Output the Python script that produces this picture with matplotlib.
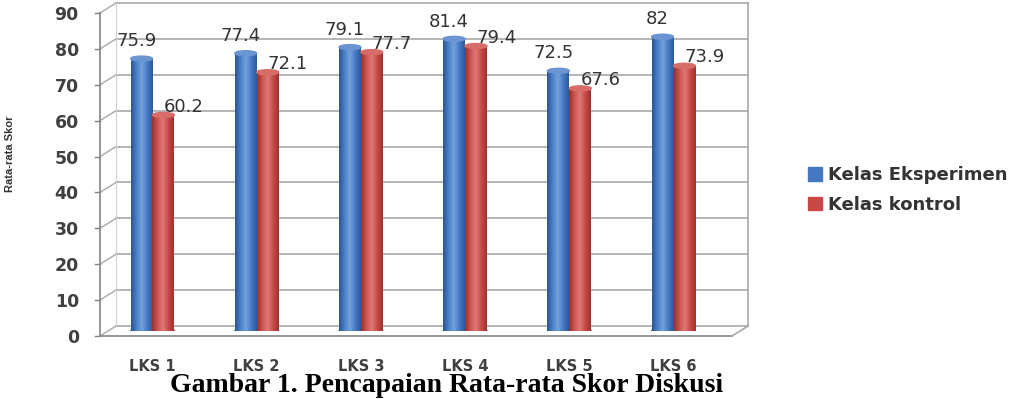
import matplotlib
matplotlib.use("Agg")
import matplotlib.pyplot as plt
import matplotlib.transforms as mtransforms
from matplotlib.colors import LinearSegmentedColormap
from matplotlib.patches import Ellipse, Patch
import numpy as np

# Data
kategori = ["LKS 1", "LKS 2", "LKS 3", "LKS 4", "LKS 5", "LKS 6"]
eksperimen = [75.9, 77.4, 79.1, 81.4, 72.5, 82]
kontrol = [60.2, 72.1, 77.7, 79.4, 67.6, 73.9]
label_eksperimen = ["75.9", "77.4", "79.1", "81.4", "72.5", "82"]
label_kontrol = ["60.2", "72.1", "77.7", "79.4", "67.6", "73.9"]
yticks = list(range(0, 91, 10))

biru = "#4479c2"
merah = "#c94846"
grid_col = "#a8a8a8"

cmap_biru = LinearSegmentedColormap.from_list(
    "b", ["#2a5596", "#4a80c9", "#76a2dc", "#4479c2", "#2c5a9c"])
cmap_merah = LinearSegmentedColormap.from_list(
    "r", ["#98302e", "#cf5451", "#de7a77", "#c94846", "#9e3331"])

fig = plt.figure(figsize=(10.32, 3.99), dpi=100)
W, H = 1032, 399
# sumbu utama = kedalaman tengah kotak 3D
ax = fig.add_axes([108 / W, (H - 331) / H, (740 - 108) / W, (331 - 8) / H])
ax.set_facecolor("none")

x = np.arange(len(kategori))
bw = 0.21
xlim = (-0.427, 5.638)
ylim = (0, 90)
dx, dy = 0.077, 1.39  # setengah kedalaman (satuan data)

# kotak 3D: dinding belakang, dinding samping, lantai
x0, x1 = xlim
for v in yticks:
    ax.plot([x0 + dx, x1 + dx], [v + dy, v + dy], color=grid_col, lw=1.2,
            clip_on=False, zorder=0)
    ax.plot([x0 - dx, x0 + dx], [v - dy, v + dy], color=grid_col, lw=1.0,
            clip_on=False, zorder=0)
    ax.plot([x0 - dx - 0.05, x0 - dx], [v - dy, v - dy], color="#808080", lw=1.0,
            clip_on=False, zorder=0)
ax.plot([x0 - dx, x0 - dx], [-dy, 90 - dy], color="#8c8c8c", lw=1.3, clip_on=False, zorder=0)
ax.plot([x0 + dx, x0 + dx], [dy, 90 + dy], color="#d0d0d0", lw=0.8, clip_on=False, zorder=0)
ax.plot([x1 + dx, x1 + dx], [dy, 90 + dy], color=grid_col, lw=1.2, clip_on=False, zorder=0)
ax.plot([x0 - dx, x1 - dx], [-dy, -dy], color="#8c8c8c", lw=1.3, clip_on=False, zorder=0)
ax.plot([x1 - dx, x1 + dx], [-dy, dy], color=grid_col, lw=1.2, clip_on=False, zorder=0)

# batang
bars_e = ax.bar(x - bw / 2, eksperimen, width=bw, color=biru, zorder=2)
bars_k = ax.bar(x + bw / 2, kontrol, width=bw, color=merah, zorder=2)

grad = np.linspace(0, 1, 64).reshape(1, -1)
for bars, cm, top in ((bars_e, cmap_biru, "#6a95d2"), (bars_k, cmap_merah, "#d76c69")):
    for b in bars:
        bx, bh = b.get_x(), b.get_height()
        ax.imshow(grad, extent=[bx, bx + bw, 0, bh], aspect="auto", cmap=cm,
                  zorder=3, interpolation="bilinear")
        ax.add_patch(Ellipse((bx + bw / 2, 0), bw, 1.4, color=cm(0.1), zorder=2.5))
        ax.add_patch(Ellipse((bx + bw / 2, bh), bw, 1.4, color=top, zorder=4))

# label data
for xi, v, t in zip(x - bw / 2, eksperimen, label_eksperimen):
    ax.annotate(t, (xi, v), xytext=(-3.6, 12.5), textcoords="offset points",
                ha="center", va="center", fontsize=13, color="#333333", zorder=5)
for xi, v, t in zip(x + bw / 2, kontrol, label_kontrol):
    ax.annotate(t, (xi, v), xytext=(14.5, 6.0), textcoords="offset points",
                ha="center", va="center", fontsize=13, color="#333333", zorder=5)

ax.set_xlim(xlim)
ax.set_ylim(ylim)
for s in ax.spines.values():
    s.set_visible(False)

ax.set_yticks(yticks)
ax.set_yticklabels([str(v) for v in yticks], fontsize=12.5, fontweight="bold", color="#404040")
ax.tick_params(axis="y", length=0, pad=21)
off = mtransforms.ScaledTranslation(0, -5 / 100, fig.dpi_scale_trans)
for lab in ax.get_yticklabels():
    lab.set_transform(lab.get_transform() + off)

ax.set_xticks(x)
ax.set_xticklabels(kategori, fontsize=10.5, fontweight="bold", color="#404040")
ax.tick_params(axis="x", length=0, pad=20)

fig.text(10 / W, (H - 154) / H, "Rata-rata Skor", rotation=90, ha="center", va="center",
         fontsize=8, fontweight="bold", color="#333333", family="Liberation Sans")

handles = [Patch(color=biru), Patch(color=merah)]
ax.legend(handles, ["Kelas Eksperimen", "Kelas kontrol"], loc="upper left",
          bbox_to_anchor=(792 / W, (H - 150) / H), bbox_transform=fig.transFigure,
          frameon=False, handlelength=0.75, handleheight=0.75, handletextpad=0.35,
          labelspacing=0.65, prop={"size": 13, "weight": "bold"}, labelcolor="#333333")

fig.text(447 / W, (H - 392) / H, "Gambar 1. Pencapaian Rata-rata Skor Diskusi",
         ha="center", va="baseline", fontsize=20, fontweight="bold",
         family="Liberation Serif", color="black")

fig.savefig("out.png", dpi=100)
